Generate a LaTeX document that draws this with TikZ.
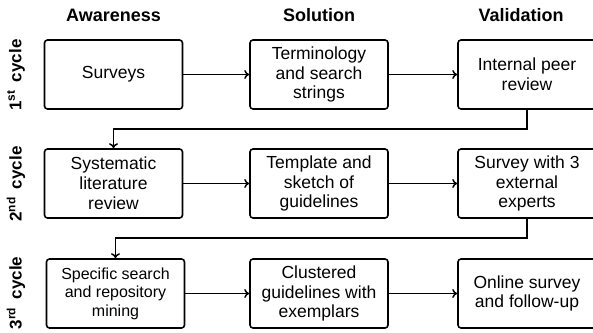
\documentclass[tikz,border=0pt]{standalone}
\usepackage{fontspec}
\setmainfont{Liberation Sans}
\usetikzlibrary{arrows.meta}
\begin{document}
\begin{tikzpicture}[x=1pt,y=-1pt,
 box/.style={draw, line width=1.6pt, rounded corners=3pt, minimum width=138pt, minimum height=69pt, align=center, font=\fontsize{17.5}{19.8}\selectfont, inner sep=2pt},
 conn/.style={line width=1.5pt, -{To[length=5pt,width=9pt]}},
 head/.style={font=\bfseries\fontsize{18}{21}\selectfont},
 cyc/.style={font=\bfseries\fontsize{17}{20}\selectfont, rotate=90}]
\useasboundingbox (0,0) rectangle (593,332);
\clip (0,0) rectangle (593,332);
\node[head] (h1) at (113.5,15) {Awareness};
\node[head] (h2) at (319,15) {Solution};
\node[head] (h3) at (521,15) {Validation};
\node[cyc] (c1) at (16,75) {1\textsuperscript{st}\hspace{8pt}cycle};
\node[cyc] (c2) at (16,184) {2\textsuperscript{nd}\hspace{8pt}cycle};
\node[cyc] (c3) at (16,293) {3\textsuperscript{rd}\hspace{8pt}cycle};
\node[box] (b11) at (113.5,74.5) {Surveys};
\node[box] (b12) at (319,74.5) {Terminology\\and search\\strings};
\node[box] (b13) at (527,74.5) {Internal peer\\review};
\node[box] (b21) at (113.5,183.5) {Systematic\\literature\\review};
\node[box] (b22) at (319,183.5) {Template and\\sketch of\\guidelines};
\node[box] (b23) at (527,183.5) {Survey with 3\\external\\experts};
\node[box, font=\fontsize{16}{18.5}\selectfont] (b31) at (115.5,293.5) {Specific search\\and repository\\mining};
\node[box] (b32) at (319,293.5) {Clustered\\guidelines with\\exemplars};
\node[box] (b33) at (527,293.5) {Online survey\\and follow-up};
\coordinate (m1) at (0,129);
\coordinate (m2) at (0,238);
\draw[conn] (b11) -- (b12);
\draw[conn] (b12) -- (b13);
\draw[conn] (b21) -- (b22);
\draw[conn] (b22) -- (b23);
\draw[conn] (b31) -- (b32);
\draw[conn] (b32) -- (b33);
\draw[conn] (b13.south) -- (b13.south |- m1) -| (b21.north);
\draw[conn] (b23.south) -- (b23.south |- m2) -| (b31.north);
\end{tikzpicture}
\end{document}
